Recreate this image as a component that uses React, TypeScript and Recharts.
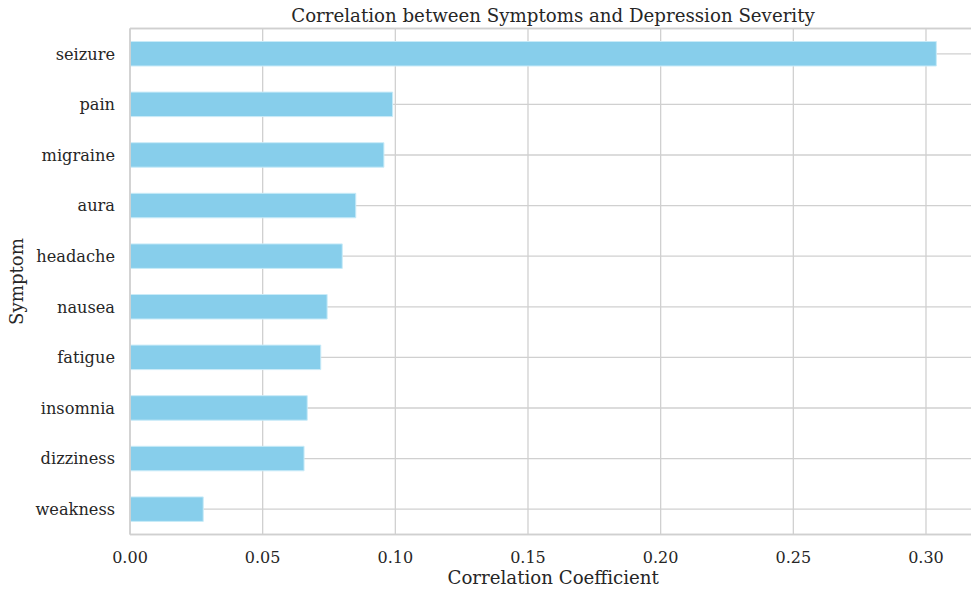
import React from 'react';
import { BarChart, Bar, XAxis, YAxis, CartesianGrid } from 'recharts';

const symptoms = ['seizure', 'pain', 'migraine', 'aura', 'headache', 'nausea', 'fatigue', 'insomnia', 'dizziness', 'weakness'];
const correlations = [0.3039, 0.099, 0.0957, 0.0851, 0.08, 0.0743, 0.0719, 0.0668, 0.0656, 0.0276];
const xTicks = [0, 0.05, 0.1, 0.15, 0.2, 0.25, 0.3];

const data = symptoms.map((s, i) => ({ symptom: s, value: correlations[i] }));

const FONT = '"DejaVu Serif", serif';
const TEXT = '#262626';
const GRID = '#d0d0d0';
const TITLE = 'Correlation between Symptoms and Depression Severity';

const XLabel = (props: any) => {
  const vb = props.viewBox || {};
  return (
    <text x={vb.x + vb.width / 2} y={584.3} textAnchor="middle" fontFamily={FONT} fontSize={18.2} fill={TEXT}>
      Correlation Coefficient
    </text>
  );
};

const YLabel = (props: any) => {
  const vb = props.viewBox || {};
  const cy = vb.y + vb.height / 2;
  return (
    <text x={16} y={cy} textAnchor="middle" dominantBaseline="central" transform={`rotate(-90, 16, ${cy})`} fontFamily={FONT} fontSize={18.2} fill={TEXT}>
      Symptom
    </text>
  );
};

export default function App() {
  return (
    <div style={{ position: 'fixed', left: 0, top: 0, width: 971, height: 592, overflow: 'hidden', background: '#fff' }}>
      <BarChart
        width={1000}
        height={592}
        data={data}
        layout="vertical"
        margin={{ top: 27.5, right: 23.6, bottom: 0, left: 0 }}
        barSize={24.5}
      >
        <CartesianGrid stroke={GRID} strokeWidth={1.3} xAxisId="main" />
        <XAxis
          type="number"
          xAxisId="main"
          domain={[0, 0.319]}
          ticks={xTicks}
          allowDataOverflow
          tickFormatter={(v: number) => v.toFixed(2)}
          tickSize={0}
          tickMargin={17}
          height={57.5}
          axisLine={{ stroke: GRID, strokeWidth: 1.7 }}
          tick={{ fontFamily: FONT, fontSize: 16, fill: TEXT }}
          label={<XLabel />}
        />
        <XAxis
          type="number"
          xAxisId="top"
          orientation="top"
          domain={[0, 0.319]}
          ticks={xTicks}
          height={1}
          tick={false}
          tickLine={false}
          axisLine={{ stroke: GRID, strokeWidth: 1.7 }}
        />
        <YAxis
          type="category"
          dataKey="symptom"
          width={130}
          tickSize={0}
          tickMargin={15}
          axisLine={{ stroke: GRID, strokeWidth: 1.7 }}
          tick={{ fontFamily: FONT, fontSize: 16.2, fill: TEXT }}
          interval={0}
          label={<YLabel />}
        />
        <Bar
          dataKey="value"
          xAxisId="main"
          fill="#87CEEB"
          stroke="#c9ebf8"
          strokeWidth={1}
          isAnimationActive={false}
        />
      </BarChart>
      <svg width={971} height={28} style={{ position: 'absolute', left: 0, top: 0 }}>
        <text x={553} y={21.7} textAnchor="middle" fontFamily={FONT} fontSize={18.2} fill={TEXT}>
          {TITLE}
        </text>
      </svg>
    </div>
  );
}
